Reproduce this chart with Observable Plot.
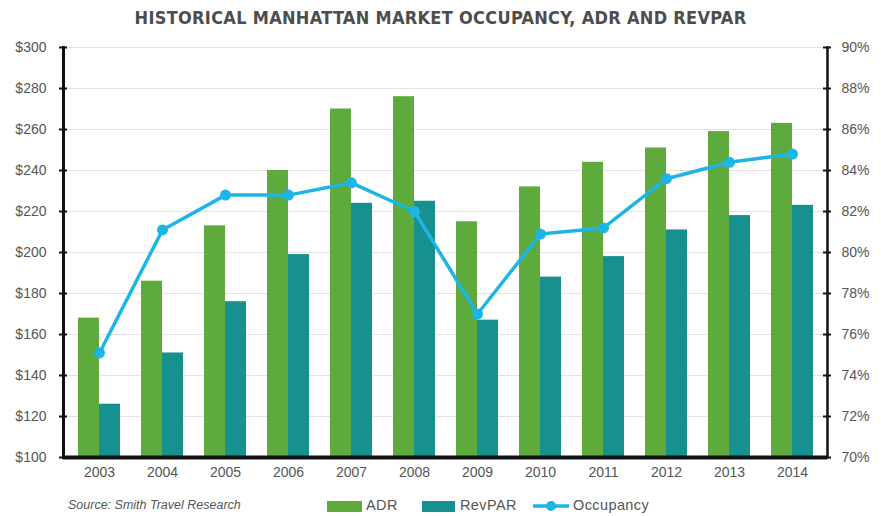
<!DOCTYPE html>
<html>
<head>
<meta charset="utf-8">
<script src="https://cdn.jsdelivr.net/npm/d3@7"></script>
<script src="https://cdn.jsdelivr.net/npm/@observablehq/plot@0.6"></script>
<style>
  html, body { margin: 0; padding: 0; background: #fff; }
  body { width: 881px; height: 516px; overflow: hidden; font-family: "Liberation Sans", Arial, sans-serif; }
  #title { height: 32px; line-height: 36px; text-align: center; font-family: "DejaVu Sans Condensed", "DejaVu Sans", sans-serif; font-weight: bold; font-size: 18px; color: #4d4d4d; letter-spacing: 0.3px; }
  #legend { position: relative; width: 881px; height: 22px; font-size: 14.5px; color: #555; letter-spacing: 0.4px; }
  #legend > * { position: absolute; }
  .src { left: 68px; top: 4px; font-style: italic; font-size: 12.5px; letter-spacing: 0; }
  .sw { top: 7px; height: 11px; }
  .lab { top: 3px; }
</style>
</head>
<body>
<div id="title">HISTORICAL MANHATTAN MARKET OCCUPANCY, ADR AND REVPAR</div>
<div id="chart"></div>
<div id="legend"></div>
<script>
const years = ["2003","2004","2005","2006","2007","2008","2009","2010","2011","2012","2013","2014"];
const adr = [168, 186, 213, 240, 270, 276, 215, 232, 244, 251, 259, 263];
const revpar = [126, 151, 176, 199, 224, 225, 167, 188, 198, 211, 218, 223];
const occupancy = [75.1, 81.1, 82.8, 82.8, 83.4, 82.0, 77.0, 80.9, 81.2, 83.6, 84.4, 84.8];
const leftTicks = [100, 120, 140, 160, 180, 200, 220, 240, 260, 280, 300];
const rightTicks = [70, 72, 74, 76, 78, 80, 82, 84, 86, 88, 90];
const seriesNames = ["ADR", "RevPAR", "Occupancy"];
const colors = ["#5faa3c", "#17918f", "#1db5e6"];

// map occupancy (%) onto the dollar axis: 70% -> $100, 90% -> $300
const occToY = p => 100 + (p - 70) * 10;
const yToOcc = v => Math.round((v - 100) / 10 + 70);

const rows = years.map((year, i) => ({year, adr: adr[i], revpar: revpar[i], occ: occupancy[i]}));

const W = 881, H = 462, mL = 63, mR = 54, mT = 15, mB = 37;
const innerW = W - mL - mR;
const pIn = 0.34, pOut = 0.17;
const step = innerW / (years.length - pIn + 2 * pOut);
const half = step * (1 - pIn) / 2;

const chart = Plot.plot({
  width: W, height: H,
  marginLeft: mL, marginRight: mR, marginTop: mT, marginBottom: mB,
  style: {fontFamily: "'Liberation Sans', Arial, sans-serif", fontSize: "14px", color: "#555", background: "#fff"},
  x: {domain: years, paddingInner: pIn, paddingOuter: pOut, label: null},
  y: {domain: [100, 300], label: null},
  marks: [
    Plot.gridY(leftTicks, {stroke: "#ecdfdf", strokeOpacity: 1, strokeWidth: 1.2}),
    Plot.barY(rows, {x: "year", y1: 100, y2: "adr", fill: colors[0], insetLeft: 0, insetRight: half}),
    Plot.barY(rows, {x: "year", y1: 100, y2: "revpar", fill: colors[1], insetLeft: half, insetRight: 0}),
    Plot.line(rows, {x: "year", y: d => occToY(d.occ), stroke: colors[2], strokeWidth: 3.5}),
    Plot.dot(rows, {x: "year", y: d => occToY(d.occ), r: 5.5, fill: colors[2]}),
    Plot.frame({anchor: "left", stroke: "#111", strokeWidth: 3}),
    Plot.frame({anchor: "right", stroke: "#111", strokeWidth: 2.5}),
    Plot.ruleY(leftTicks, {y: d => d, insetRight: innerW - 8, dx: -4, stroke: "#111", strokeWidth: 2}),
    Plot.ruleY(leftTicks, {y: d => d, insetLeft: innerW - 8, dx: 4, stroke: "#111", strokeWidth: 2}),
    Plot.ruleY([100], {stroke: "#111", strokeWidth: 4}),
    Plot.axisY(leftTicks, {anchor: "left", tickSize: 0, tickPadding: 17, tickFormat: d => "$" + d, fill: "#555", label: null}),
    Plot.axisY(rightTicks.map(occToY), {anchor: "right", tickSize: 0, tickPadding: 14, tickFormat: d => yToOcc(d) + "%", fill: "#555", label: null}),
    Plot.axisX(years, {anchor: "bottom", tickSize: 0, tickPadding: 10, fill: "#555", label: null})
  ]
});
document.getElementById("chart").appendChild(chart);

// legend
const lg = document.getElementById("legend");
lg.innerHTML = `
  <span class="src">Source: Smith Travel Research</span>
  <span class="sw" style="left:327px;width:35px;background:${colors[0]}"></span>
  <span class="lab" style="left:366px">${seriesNames[0]}</span>
  <span class="sw" style="left:422px;width:33px;background:${colors[1]}"></span>
  <span class="lab" style="left:460px">${seriesNames[1]}</span>
  <svg style="left:533px;top:5px" width="36" height="14"><line x1="0" x2="36" y1="7" y2="7" stroke="${colors[2]}" stroke-width="3.5"/><circle cx="18" cy="7" r="5" fill="${colors[2]}"/></svg>
  <span class="lab" style="left:573px">${seriesNames[2]}</span>
`;
</script>
</body>
</html>
